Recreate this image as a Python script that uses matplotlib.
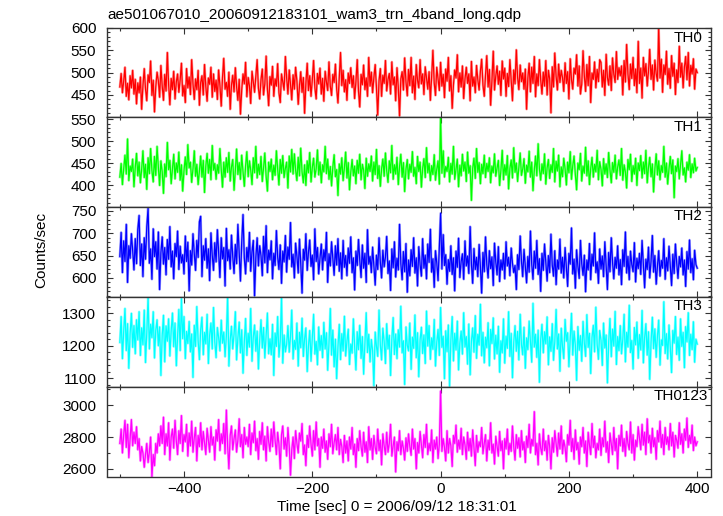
import numpy as np
import matplotlib
matplotlib.use("Agg")
import matplotlib.pyplot as plt
from matplotlib.ticker import MultipleLocator

plt.rcParams['font.family'] = ['Liberation Sans', 'DejaVu Sans']
plt.rcParams['axes.unicode_minus'] = True

title = "ae501067010_20060912183101_wam3_trn_4band_long.qdp"
xlabel = "Time [sec] 0 = 2006/09/12 18:31:01"
ylabel = "Counts/sec"
band_names = ["TH0", "TH1", "TH2", "TH3", "TH0123"]
band_colors = ["#ff0000", "#00ff00", "#0000ff", "#00ffff", "#ff00ff"]

# time grid: 2 s sampling of the light curve, 0 at trigger
t_start, t_step = -500, 2

th0 = [
    468, 498, 455, 481, 512, 447, 476, 439, 493, 466, 505, 452, 485, 430, 477,
    455, 490, 418, 471, 509, 463, 437, 495, 478, 526, 449, 483, 412, 468, 501,
    482, 445, 516, 470, 438, 496, 459, 545, 474, 428, 487, 462, 503, 441, 479,
    497, 456, 484, 521, 448, 471, 433, 509, 466, 490, 451, 529, 475, 440, 486,
    462, 505, 427, 478, 493, 450, 518, 469, 436, 488, 474, 512, 445, 497, 458,
    483, 440, 506, 471, 425, 489, 532, 463, 478, 447, 501, 418, 472, 494, 457,
    511, 468, 438, 485, 407, 462, 497, 475, 523, 446, 489, 470, 431, 503, 480,
    456, 492, 529, 465, 441, 484, 508, 450, 475, 537, 463, 426, 491, 472, 514,
    447, 486, 470, 520, 455, 433, 497, 479, 461, 536, 488, 452, 506, 474, 439,
    495, 463, 512, 481, 429, 470, 502, 456, 489, 409, 476, 521, 460, 493, 447,
    484, 527, 466, 441, 498, 475, 510, 452, 487, 436, 503, 479, 460, 524, 470,
    449, 496, 478, 519, 463, 432, 490, 545, 471, 505, 457, 484, 438, 499, 476,
    511, 467, 493, 442, 480, 529, 458, 423, 496, 473, 517, 462, 488, 447, 534,
    470, 501, 455, 489, 518, 466, 405, 482, 509, 447, 494, 476, 527, 459, 485,
    498, 452, 524, 473, 490, 437, 511, 467, 403, 486, 502, 461, 533, 479, 448,
    507, 471, 534, 455, 492, 440, 518, 483, 466, 529, 475, 497, 451, 513, 488,
    463, 502, 438, 491, 550, 477, 449, 512, 485, 460, 523, 470, 496, 444, 508,
    481, 534, 459, 493, 420, 472, 506, 488, 540, 457, 499, 468, 515, 442, 486,
    512, 476, 497, 437, 525, 470, 490, 455, 516, 484, 461, 503, 530, 472, 447,
    495, 538, 468, 507, 427, 482, 548, 461, 492, 515, 474, 503, 449, 526, 486,
    510, 447, 498, 469, 529, 483, 437, 506, 475, 551, 489, 462, 517, 480, 499,
    463, 508, 418, 488, 521, 457, 512, 476, 536, 446, 497, 471, 529, 484, 452,
    501, 470, 527, 450, 505, 486, 410, 513, 468, 544, 492, 461, 519, 478, 505,
    489, 458, 522, 476, 502, 441, 531, 484, 463, 510, 497, 540, 470, 515, 452,
    474, 549, 493, 458, 518, 471, 536, 433, 499, 485, 524, 466, 507, 480, 529,
    523, 468, 505, 449, 541, 489, 472, 515, 460, 533, 496, 478, 547, 485, 511,
    493, 515, 450, 527, 479, 563, 497, 462, 519, 487, 534, 471, 508, 455, 570,
    476, 510, 443, 534, 493, 520, 470, 503, 552, 485, 517, 461, 528, 498, 481,
    600, 488, 530, 456, 517, 496, 548, 474, 509, 465, 538, 492, 521, 451, 506,
    478, 559, 490, 521, 466, 512, 536, 484, 545, 470, 516, 497, 531, 463, 508,
    500,
]

th1 = [
    418, 449, 401, 437, 468, 425, 505, 410, 443, 431, 459, 396, 440, 472, 421,
    452, 405, 436, 478, 417, 447, 390, 462, 426, 483, 433, 407, 465, 422, 488,
    441, 399, 455, 430, 381, 448, 419, 497, 435, 456, 403, 438, 470, 414, 450,
    429, 475, 411, 446, 386, 433, 464, 424, 492, 439, 452, 406, 437, 478, 420,
    447, 401, 431, 466, 418, 456, 383, 443, 472, 427, 458, 412, 490, 434, 449,
    413, 446, 427, 483, 436, 395, 452, 418, 462, 429, 474, 409, 441, 458, 388,
    433, 482, 424, 451, 413, 468, 430, 397, 444, 476, 419, 455, 434, 401, 462,
    428, 488, 416, 447, 424, 465, 408, 439, 473, 420, 386, 452, 431, 459, 412,
    445, 422, 478, 436, 400, 458, 427, 467, 417, 438, 452, 393, 466, 430, 481,
    425, 471, 433, 410, 463, 421, 484, 430, 405, 446, 399, 455, 428, 474, 407,
    440, 461, 418, 437, 480, 423, 452, 405, 446, 430, 488, 426, 459, 413, 442,
    398, 441, 469, 419, 435, 376, 448, 425, 462, 410, 439, 475, 416, 451, 389,
    430, 458, 421, 443, 403, 456, 427, 470, 412, 447, 434, 392, 461, 420, 448,
    431, 466, 409, 452, 424, 481, 415, 444, 397, 437, 459, 420, 473, 432, 406,
    455, 428, 490, 413, 446, 425, 463, 401, 442, 470, 418, 451, 385, 436, 458,
    414, 447, 429, 476, 420, 440, 403, 465, 431, 452, 395, 438, 460, 417, 485,
    428, 449, 410, 444, 424, 469, 411, 436, 455, 402, 552, 427, 478, 418, 442,
    431, 463, 407, 449, 425, 488, 413, 437, 459, 396, 445, 421, 470, 432, 452,
    408, 475, 427, 444, 365, 438, 461, 415, 483, 429, 451, 403, 447, 426, 468,
    417, 449, 431, 462, 405, 443, 428, 471, 420, 439, 456, 399, 434, 479, 412,
    446, 423, 467, 391, 438, 457, 416, 485, 429, 450, 408, 441, 473, 422, 436,
    460, 404, 445, 430, 477, 418, 452, 387, 433, 466, 421, 494, 437, 411, 448,
    426, 471, 402, 439, 458, 415, 446, 429, 483, 407, 454, 432, 468, 396, 441,
    419, 461, 437, 400, 452, 428, 476, 413, 444, 466, 424, 389, 450, 435, 472,
    409, 443, 427, 486, 421, 455, 401, 438, 463, 418, 447, 430, 479, 412, 453,
    436, 398, 460, 425, 448, 417, 474, 434, 405, 451, 429, 468, 414, 441, 457,
    422, 483, 411, 446, 430, 393, 458, 435, 470, 408, 444, 425, 461, 399, 450,
    433, 467, 416, 452, 426, 479, 405, 440, 463, 419, 448, 384, 437, 471, 423,
    455, 412, 444, 429, 488, 418, 450, 402, 437, 465, 426, 457, 371, 443, 431,
    460, 414, 446, 478, 423, 439, 407, 452, 434, 469, 417, 448, 428, 461, 432,
    440,
]

th2 = [
    648, 702, 612, 683, 637, 720, 590, 672, 644, 699, 661, 618, 688, 632, 709,
    740, 628, 676, 603, 690, 642, 715, 756, 633, 665, 597, 710, 648, 681, 620,
    703, 574, 657, 692, 631, 668, 607, 686, 642, 715, 625, 660, 598, 677, 648,
    705, 619, 671, 634, 652, 609, 694, 637, 680, 571, 661, 629, 699, 655, 617,
    684, 646, 726, 738, 603, 672, 640, 688, 622, 665, 594, 701, 651, 617, 679,
    636, 708, 657, 601, 690, 643, 668, 582, 711, 639, 663, 620, 696, 648, 610,
    675, 632, 720, 654, 593, 681, 742, 645, 609, 668, 637, 702, 615, 659, 684,
    560, 646, 690, 627, 672, 650, 605, 693, 634, 717, 612, 662, 641, 683, 598,
    655, 628, 706, 647, 619, 674, 588, 660, 636, 695, 613, 669, 642, 724, 625,
    653, 600, 678, 649, 611, 687, 632, 566, 664, 640, 699, 617, 658, 685, 626,
    651, 596, 710, 637, 668, 609, 645, 676, 618, 663, 639, 702, 590, 654, 627,
    681, 643, 606, 672, 629, 688, 615, 656, 598, 684, 624, 650, 605, 667, 633,
    692, 612, 645, 573, 660, 628, 686, 639, 601, 674, 622, 655, 590, 708, 631,
    648, 612, 669, 627, 584, 651, 619, 690, 636, 600, 662, 625, 647, 693, 610,
    638, 572, 665, 623, 681, 602, 644, 618, 720, 632, 596, 659, 614, 677, 568,
    640, 605, 663, 626, 690, 611, 645, 582, 670, 630, 604, 688, 622, 651, 598,
    676, 635, 709, 613, 643, 579, 661, 634, 594, 668, 745, 620, 697, 628, 652,
    586, 641, 615, 672, 608, 645, 571, 660, 624, 689, 601, 637, 654, 597, 683,
    627, 649, 610, 715, 632, 588, 666, 619, 646, 603, 675, 625, 566, 657, 614,
    692, 630, 600, 661, 621, 647, 583, 678, 636, 607, 670, 592, 640, 618, 655,
    598, 681, 627, 646, 605, 667, 633, 612, 628, 574, 652, 619, 694, 638, 603,
    664, 625, 589, 648, 613, 705, 631, 597, 660, 622, 684, 608, 643, 570, 655,
    617, 676, 634, 593, 650, 612, 698, 629, 604, 661, 585, 640, 620, 687, 611,
    646, 600, 668, 624, 581, 655, 631, 712, 609, 642, 577, 663, 626, 599, 684,
    632, 606, 651, 569, 640, 618, 677, 596, 653, 627, 701, 612, 636, 588, 665,
    620, 649, 603, 681, 629, 574, 657, 614, 690, 635, 598, 646, 622, 672, 607,
    641, 585, 663, 626, 703, 611, 648, 596, 660, 630, 614, 679, 591, 644, 621,
    655, 608, 684, 633, 578, 642, 619, 669, 600, 637, 695, 613, 650, 586, 627,
    661, 604, 639, 622, 688, 597, 645, 616, 671, 628, 583, 653, 610, 676, 634,
    599, 648, 625, 667, 607, 640, 581, 659, 620, 685, 612, 643, 596, 662, 630,
    622,
]

th3 = [
    1210, 1290, 1160, 1245, 1315, 1185, 1268, 1130, 1237, 1300, 1195, 1262, 1175, 1280, 1218,
    1305, 1170, 1255, 1203, 1310, 1148, 1240, 1350, 1190, 1266, 1225, 1305, 1162, 1248, 1280,
    1200, 1258, 1108, 1232, 1294, 1150, 1261, 1214, 1283, 1168, 1246, 1301, 1197, 1270, 1138,
    1229, 1312, 1185, 1345, 1222, 1290, 1160, 1244, 1207, 1275, 1181, 1236, 1102, 1263, 1198,
    1321, 1215, 1157, 1250, 1288, 1172, 1241, 1206, 1297, 1145, 1233, 1270, 1190, 1318, 1212,
    1163, 1256, 1225, 1184, 1279, 1208, 1242, 1166, 1230, 1350, 1137, 1218, 1260, 1190, 1236,
    1305, 1156, 1224, 1273, 1178, 1249, 1115, 1211, 1284, 1170, 1238, 1196, 1315, 1152, 1227,
    1264, 1183, 1245, 1128, 1218, 1280, 1193, 1256, 1162, 1232, 1301, 1175, 1221, 1172, 1266,
    1108, 1239, 1198, 1290, 1165, 1214, 1350, 1146, 1233, 1181, 1205, 1262, 1180, 1228, 1310,
    1159, 1216, 1189, 1270, 1137, 1241, 1194, 1285, 1167, 1222, 1255, 1120, 1200, 1247, 1152,
    1226, 1297, 1174, 1213, 1141, 1258, 1186, 1231, 1163, 1272, 1190, 1240, 1124, 1209, 1315,
    1171, 1248, 1135, 1220, 1098, 1198, 1266, 1157, 1237, 1184, 1291, 1168, 1214, 1251, 1142,
    1205, 1177, 1283, 1196, 1125, 1243, 1188, 1263, 1161, 1228, 1112, 1207, 1302, 1179, 1235,
    1150, 1219, 1185, 1076, 1242, 1198, 1167, 1310, 1203, 1156, 1254, 1213, 1145, 1268, 1190,
    1232, 1108, 1221, 1287, 1173, 1236, 1160, 1249, 1196, 1322, 1178, 1215, 1080, 1258, 1201,
    1184, 1270, 1127, 1226, 1192, 1295, 1163, 1240, 1104, 1218, 1257, 1176, 1233, 1145, 1307,
    1199, 1262, 1158, 1224, 1189, 1281, 1137, 1211, 1250, 1170, 1318, 1195, 1229, 1098, 1246,
    1182, 1264, 1075, 1219, 1290, 1153, 1238, 1187, 1276, 1125, 1208, 1245, 1174, 1302, 1196,
    1228, 1143, 1267, 1110, 1214, 1255, 1180, 1293, 1161, 1235, 1202, 1328, 1169, 1241, 1147,
    1226, 1194, 1271, 1138, 1250, 1207, 1286, 1159, 1232, 1175, 1260, 1118, 1215, 1178, 1283,
    1146, 1229, 1192, 1305, 1167, 1238, 1101, 1211, 1262, 1183, 1244, 1156, 1297, 1203, 1172,
    1257, 1130, 1224, 1188, 1276, 1210, 1149, 1331, 1196, 1235, 1164, 1248, 1087, 1219, 1266,
    1178, 1243, 1206, 1289, 1141, 1227, 1183, 1268, 1155, 1213, 1312, 1190, 1236, 1121, 1254,
    1197, 1160, 1281, 1214, 1240, 1135, 1222, 1300, 1171, 1245, 1202, 1093, 1259, 1186, 1231,
    1152, 1275, 1208, 1167, 1296, 1195, 1238, 1114, 1226, 1263, 1181, 1319, 1204, 1158, 1247,
    1217, 1139, 1270, 1193, 1233, 1085, 1212, 1284, 1166, 1251, 1199, 1306, 1142, 1228, 1185,
    1262, 1175, 1220, 1297, 1150, 1241, 1196, 1325, 1179, 1216, 1128, 1256, 1203, 1273, 1161,
    1234, 1187, 1309, 1147, 1225, 1268, 1171, 1243, 1096, 1210, 1288, 1191, 1252, 1164, 1230,
    1279, 1140, 1218, 1201, 1336, 1176, 1237, 1159, 1264, 1195, 1117, 1247, 1208, 1290, 1173,
    1226, 1155, 1283, 1198, 1241, 1132, 1259, 1212, 1302, 1170, 1235, 1188, 1274, 1149, 1220,
    1205,
]

th0123 = [
    2760, 2850, 2700, 2815, 2905, 2735, 2880, 2670, 2790, 2910, 2745, 2830, 2760, 2865, 2720,
    2790, 2650, 2740, 2700, 2610, 2690, 2760, 2640, 2705, 2800, 2550, 2690, 2620, 2760, 2700,
    2820, 2745, 2870, 2760, 2925, 2690, 2820, 2745, 2890, 2655, 2800, 2850, 2730, 2905, 2775,
    2690, 2840, 2760, 2935, 2710, 2815, 2770, 2880, 2680, 2825, 2745, 2900, 2705, 2795, 2860,
    2650, 2810, 2740, 2890, 2720, 2835, 2760, 2690, 2855, 2780, 2705, 2865, 2750, 2800, 2655,
    2845, 2775, 2910, 2715, 2820, 2760, 2885, 2695, 2970, 2745, 2600, 2810, 2870, 2720, 2790,
    2845, 2705, 2780, 2915, 2740, 2815, 2670, 2860, 2755, 2800, 2740, 2880, 2690, 2825, 2765,
    2900, 2715, 2790, 2660, 2835, 2755, 2890, 2720, 2805, 2650, 2865, 2770, 2710, 2850, 2740,
    2895, 2780, 2690, 2830, 2755, 2600, 2815, 2870, 2725, 2795, 2680, 2860, 2745, 2560, 2720,
    2800, 2665, 2840, 2760, 2700, 2825, 2775, 2885, 2690, 2750, 2620, 2810, 2735, 2870, 2755,
    2680, 2840, 2720, 2895, 2745, 2790, 2610, 2800, 2730, 2850, 2705, 2775, 2660, 2820, 2740,
    2880, 2695, 2765, 2815, 2720, 2860, 2690, 2785, 2740, 2640, 2810, 2700, 2775, 2650, 2800,
    2725, 2860, 2690, 2755, 2610, 2790, 2715, 2840, 2740, 2680, 2830, 2705, 2770, 2640, 2865,
    2720, 2790, 2660, 2810, 2735, 2695, 2850, 2715, 2780, 2625, 2820, 2745, 2690, 2830, 2705,
    2760, 2880, 2680, 2745, 2800, 2580, 2770, 2715, 2840, 2690, 2775, 2730, 2655, 2795, 2710,
    2820, 2740, 2685, 2850, 2725, 2790, 2600, 2765, 2700, 2835, 2750, 2670, 2815, 2735, 2880,
    2690, 2760, 2715, 2845, 2640, 2780, 2725, 2800, 2665, 2755, 3090, 2710, 2790, 2735, 2650,
    2840, 2700, 2790, 2745, 2615, 2810, 2760, 2875, 2705, 2780, 2725, 2855, 2690, 2800, 2750,
    2660, 2830, 2715, 2790, 2680, 2845, 2735, 2620, 2810, 2705, 2770, 2740, 2860, 2695, 2760,
    2815, 2650, 2780, 2720, 2890, 2700, 2755, 2630, 2805, 2745, 2680, 2835, 2715, 2775, 2600,
    2790, 2725, 2850, 2690, 2760, 2710, 2870, 2740, 2655, 2815, 2730, 2795, 2675, 2840, 2720,
    2770, 2640, 2805, 2735, 2880, 2700, 2785, 2745, 2960, 2690, 2760, 2625, 2820, 2730, 2690,
    2850, 2715, 2775, 2655, 2810, 2740, 2600, 2795, 2705, 2840, 2760, 2680, 2825, 2725, 2870,
    2695, 2780, 2735, 2645, 2815, 2750, 2905, 2710, 2790, 2660, 2845, 2720, 2765, 2630, 2800,
    2740, 2860, 2700, 2775, 2615, 2830, 2750, 2690, 2885, 2735, 2805, 2670, 2760, 2720, 2850,
    2685, 2795, 2740, 2900, 2705, 2770, 2640, 2825, 2755, 2690, 2860, 2715, 2790, 2600, 2810,
    2745, 2875, 2710, 2790, 2680, 2835, 2760, 2720, 2895, 2700, 2815, 2655, 2780, 2740, 2865,
    2795, 2720, 2880, 2750, 2830, 2690, 2915, 2765, 2810, 2700, 2855, 2740, 2795, 2660, 2840,
    2770, 2900, 2735, 2815, 2690, 2860, 2755, 2800, 2720, 2885, 2745, 2830, 2675, 2810, 2780,
    2730, 2890, 2755, 2820, 2700, 2850, 2780, 2920, 2735, 2810, 2760, 2875, 2715, 2800, 2745,
    2770,
]

series = [th0, th1, th2, th3, th0123]
ylims = [(400.7, 601), (351, 555), (558.5, 760), (1074, 1352), (2552, 3118)]
ymajor = [50, 50, 50, 100, 200]
yminor = [10, 10, 10, 20, 100]
xlim = (-520.5, 421)

W, H = 723, 516
fig = plt.figure(figsize=(W / 100, H / 100), dpi=100)

left_px, right_px = 106.7, 710.7
edges = [27.5, 117.0, 206.5, 296.5, 386.5, 476.5]

for k in range(5):
    top, bot = edges[k], edges[k + 1]
    ax = fig.add_axes([left_px / W, 1 - bot / H, (right_px - left_px) / W, (bot - top) / H])
    y = np.asarray(series[k], dtype=float)
    t = t_start + t_step * np.arange(len(y))
    ax.plot(t, y, color=band_colors[k], lw=1.8, alpha=0.35)
    ax.plot(t, y, color=band_colors[k], lw=0.9)
    ax.set_xlim(*xlim)
    ax.set_ylim(*ylims[k])
    ax.xaxis.set_major_locator(MultipleLocator(200))
    ax.xaxis.set_minor_locator(MultipleLocator(100))
    ax.yaxis.set_major_locator(MultipleLocator(ymajor[k]))
    ax.yaxis.set_minor_locator(MultipleLocator(yminor[k]))
    ax.tick_params(which='both', direction='in', top=True, right=True,
                   labelsize=11, color='#333333', width=0.8)
    ax.tick_params(which='major', length=4.5)
    ax.tick_params(which='minor', length=2.5)
    ax.tick_params(axis='y', pad=7.5)
    ax.tick_params(axis='x', pad=4)
    for sp in ax.spines.values():
        sp.set_linewidth(1.0)
        sp.set_color('#333333')
    if k < 4:
        ax.tick_params(labelbottom=False)
    rx = 702 if k < 4 else 708
    ax.text((rx - left_px) / (right_px - left_px), 1 - 10 / (bot - top), band_names[k],
            transform=ax.transAxes, ha='right', va='center', fontsize=11)

fig.text(107 / W, 1 - 15 / H, title, ha='left', va='center', fontsize=11)
fig.text(397 / W, 1 - 506.5 / H, xlabel, ha='center', va='center', fontsize=11)
fig.text(41 / W, 1 - 250 / H, ylabel, ha='center', va='center', rotation=90, fontsize=11)

fig.savefig("out.png", dpi=100)
